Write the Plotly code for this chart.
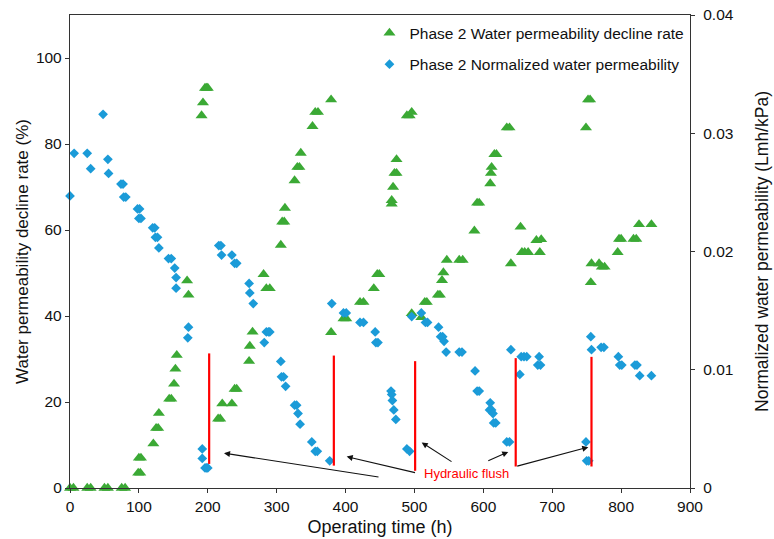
import plotly.graph_objects as go

# Phase 2 water permeability decline rate (%), left axis
decline_time = [0, 5, 25, 30, 50, 55, 75, 80,
                99, 102, 100, 103, 121, 125, 128, 129, 144, 147, 151, 153, 155,
                170, 172, 191, 193, 196, 198, 200,
                215, 218, 221, 235, 239, 242, 260, 261, 265, 281, 285, 290,
                306, 308, 311, 312, 326, 330, 333, 335, 352, 356, 360,
                379, 379, 397, 401, 421, 426, 441, 446, 449,
                467, 467, 469, 471, 474, 474, 489, 493, 496,
                496, 510, 515, 518, 534, 537, 540, 542, 547, 565, 570,
                587, 591, 594, 610, 611, 612, 616, 619, 634, 638,
                640, 654, 656, 660, 665, 677, 684, 682,
                749, 752, 755, 756, 757, 768, 772, 776,
                795, 797, 800, 818, 822, 826, 844]
decline_rate = [0, 0, 0, 0, 0, 0, 0, 0,
                3.5, 3.5, 7.0, 7.0, 10.3, 13.9, 13.9, 17.4, 20.7, 20.7, 24.2, 27.7, 30.9,
                48.2, 44.9, 86.6, 89.6, 93.0, 93.0, 93.0,
                16.1, 16.1, 19.6, 19.6, 23.0, 23.0, 29.5, 33.0, 36.3, 49.7, 46.4, 46.4,
                56.5, 61.9, 61.9, 65.1, 71.5, 74.6, 74.6, 77.9, 84.1, 87.4, 87.4,
                90.3, 36.2, 39.4, 39.4, 43.2, 43.2, 46.4, 49.7, 49.7,
                66.9, 66.1, 70.0, 73.2, 73.2, 76.4, 86.6, 86.6, 87.4,
                40.6, 39.7, 43.2, 43.2, 44.9, 44.9, 48.3, 50.1, 53.0, 53.0, 53.0,
                59.8, 66.3, 66.3, 70.8, 73.2, 74.6, 77.6, 77.6, 83.8, 83.8,
                52.2, 60.7, 54.8, 54.8, 54.8, 57.6, 57.8, 54.8,
                83.8, 90.3, 90.3, 47.8, 52.2, 52.2, 51.4, 51.4,
                54.8, 57.9, 57.9, 57.9, 57.9, 61.3, 61.3]

# Phase 2 normalized water permeability (Lmh/kPa), right axis
perm_time = [0, 6, 25, 30, 48, 55, 56, 74, 77, 78, 81,
             98, 101, 100, 103, 120, 123, 124, 127, 129, 143, 147, 152, 154, 154,
             172, 171, 192, 192, 196, 198, 200,
             216, 219, 220, 235, 239, 242, 260, 261, 266,
             282, 285, 288, 290, 306, 307, 310, 313, 326, 329, 331, 334,
             351, 356, 359, 377, 380, 397, 401, 421, 426, 443, 444, 447,
             466, 467, 468, 470, 473, 489, 493,
             496, 510, 516, 519, 535, 538, 541, 543, 546, 565, 569,
             588, 591, 594, 610, 609, 612, 614, 615, 618, 634, 638,
             640, 653, 655, 659, 663, 681, 679, 683,
             749, 750, 753, 756, 757, 771, 775,
             796, 798, 801, 820, 823, 827, 844]
perm_value = [0.0247, 0.0283, 0.0283, 0.0270, 0.0316, 0.0278, 0.0266, 0.0257, 0.0257, 0.0246, 0.0246,
              0.0236, 0.0236, 0.0228, 0.0228, 0.0220, 0.0220, 0.0212, 0.0212, 0.0203, 0.0194, 0.0194, 0.0186, 0.0178, 0.0169,
              0.0136, 0.0127, 0.0033, 0.0025, 0.0017, 0.0017, 0.0017,
              0.0205, 0.0205, 0.0197, 0.0197, 0.0190, 0.0190, 0.0173, 0.0165, 0.0156,
              0.0123, 0.0132, 0.0132, 0.0132, 0.0107, 0.0094, 0.0094, 0.0086, 0.0070, 0.0070, 0.0063, 0.0054,
              0.0039, 0.0031, 0.0031, 0.0023, 0.0156, 0.0148, 0.0148, 0.0140, 0.0140, 0.0132, 0.0123, 0.0123,
              0.0082, 0.0079, 0.0074, 0.0066, 0.0058, 0.0033, 0.0031,
              0.0145, 0.0148, 0.0140, 0.0140, 0.0136, 0.0128, 0.0128, 0.0124, 0.0115, 0.0115, 0.0115,
              0.0099, 0.0082, 0.0082, 0.0072, 0.0066, 0.0066, 0.0063, 0.0055, 0.0055, 0.0039, 0.0039,
              0.0117, 0.0096, 0.0111, 0.0111, 0.0111, 0.0111, 0.0104, 0.0104,
              0.0039, 0.0023, 0.0023, 0.0128, 0.0117, 0.0119, 0.0119,
              0.0111, 0.0104, 0.0104, 0.0104, 0.0104, 0.0095, 0.0095]

# Hydraulic flush markers (red vertical lines), in left-axis units
flush_time = [202, 383, 501, 647, 757]
flush_top = [31.3, 30.8, 29.5, 30.2, 30.5]
flush_bottom = [5.6, 5.2, 4.0, 5.0, 5.0]

# Arrows: tail (near label) -> head (target)
arrow_tail_x = [450, 503, 556, 605, 647]
arrow_tail_y = [2.5, 3.5, 5.9, 6.2, 5.0]
arrow_head_x = [223.5, 401.6, 510.5, 636.2, 752.4]
arrow_head_y = [8.1, 7.3, 10.6, 8.4, 9.5]

label_x, label_y = 576, 3.3

green = "#3ba935"
blue = "#1b9bd8"
axis_col = "#333333"
font_family = "Arial, Liberation Sans, sans-serif"

fig = go.Figure()
fig.add_trace(go.Scatter(
    x=decline_time, y=decline_rate, mode="markers",
    name="Phase 2 Water permeability decline rate",
    marker=dict(symbol="triangle-up", size=10.5, color=green),
    cliponaxis=False, legendgroup="a"))
fig.add_trace(go.Scatter(
    x=perm_time, y=perm_value, mode="markers", yaxis="y2",
    name="Phase 2 Normalized water permeability",
    marker=dict(symbol="diamond", size=7.5, color=blue),
    cliponaxis=False, legendgroup="b"))

shapes = []
for t, top, bot in zip(flush_time, flush_top, flush_bottom):
    shapes.append(dict(type="line", xref="x", yref="y", x0=t, x1=t, y0=bot, y1=top,
                       line=dict(color="#ff0000", width=2.2)))

annotations = []
for tx, ty, hx, hy in zip(arrow_tail_x, arrow_tail_y, arrow_head_x, arrow_head_y):
    annotations.append(dict(x=hx, y=hy, ax=tx, ay=ty, xref="x", yref="y", axref="x", ayref="y",
                            text="", showarrow=True, arrowhead=2, arrowsize=1.1, arrowwidth=1.1,
                            arrowcolor="#111111", standoff=0, startstandoff=0))
annotations.append(dict(x=label_x, y=label_y, xref="x", yref="y", text="Hydraulic flush",
                        showarrow=False, font=dict(color="#ff0000", size=13, family=font_family),
                        bgcolor="rgba(255,255,255,0)"))

fig.update_layout(
    width=774, height=539,
    margin=dict(l=70, r=84, t=15, b=51),
    paper_bgcolor="white", plot_bgcolor="white",
    font=dict(family=font_family, color="#111111", size=15.5),
    showlegend=True,
    legend=dict(x=0.483, y=0.997, xanchor="left", yanchor="top",
                bgcolor="rgba(0,0,0,0)", font=dict(size=15.5), tracegroupgap=8),
    shapes=shapes, annotations=annotations,
    xaxis=dict(range=[0, 900], tickvals=[0, 100, 200, 300, 400, 500, 600, 700, 800, 900],
               showgrid=False, zeroline=False, showline=True, linecolor=axis_col, linewidth=1.3,
               mirror=True, ticks="outside", ticklen=4, tickcolor=axis_col, automargin=False,
               title=dict(text="Operating time (h)", font=dict(size=18), standoff=6)),
    yaxis=dict(range=[0, 110], tickvals=[0, 20, 40, 60, 80, 100],
               showgrid=False, zeroline=False, showline=True, linecolor=axis_col, linewidth=1.3,
               ticks="outside", ticklen=4, tickcolor=axis_col, automargin=False,
               title=dict(text="Water permeability decline rate (%)", font=dict(size=17), standoff=2)),
    yaxis2=dict(range=[0, 0.04], tickvals=[0, 0.01, 0.02, 0.03, 0.04],
                ticktext=["0", "0.01", "0.02", "0.03", "0.04"],
                overlaying="y", side="right", anchor="x", automargin=False,
                showgrid=False, zeroline=False, showline=True, linecolor=axis_col, linewidth=1.3,
                ticks="outside", ticklen=4, tickcolor=axis_col, ticklabelstandoff=5,
                title=dict(text="Normalized water permeability (Lmh/kPa)", font=dict(size=17.5), standoff=22)),
)

fig.write_html("out.html", config={"displayModeBar": False},
               post_script="document.body.style.margin='0px';")
